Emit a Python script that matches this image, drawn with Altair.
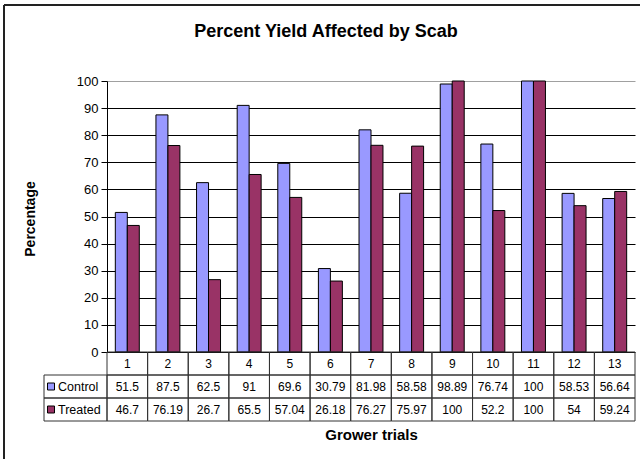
import altair as alt
import pandas as pd

# Grower trial numbers and percent yield affected by scab
trials = ["1", "2", "3", "4", "5", "6", "7", "8", "9", "10", "11", "12", "13"]
control = [51.5, 87.5, 62.5, 91, 69.6, 30.79, 81.98, 58.58, 98.89, 76.74, 100, 58.53, 56.64]
treated = [46.7, 76.19, 26.7, 65.5, 57.04, 26.18, 76.27, 75.97, 100, 52.2, 100, 54, 59.24]
series = ["Control", "Treated"]
series_colors = ["#9999FF", "#993366"]
y_ticks = [0, 10, 20, 30, 40, 50, 60, 70, 80, 90, 100]

chart_title = "Percent Yield Affected by Scab"
y_title = "Percentage"
x_title = "Grower trials"

FONT = "Liberation Sans"

# long table: one row per trial and series
records = []
for name, vals in zip(series, [control, treated]):
    for t, v in zip(trials, vals):
        records.append({"trial": t, "row": name, "value": v, "label": f"{v:g}"})
bars_df = pd.DataFrame(records)

# data table below the plot: header row with trial numbers + one row per series
header_df = pd.DataFrame({"trial": trials, "row": "Trial", "label": trials})
table_df = pd.concat([header_df, bars_df[["trial", "row", "label"]]], ignore_index=True)
row_order = ["Trial"] + series

color = alt.Color("row:N", scale=alt.Scale(domain=series, range=series_colors), legend=None)

W, H = 528, 271

# ---- bar panel ----
bars = alt.Chart(bars_df).mark_bar(stroke="black", strokeWidth=1).encode(
    x=alt.X("trial:N", sort=trials, axis=None,
            scale=alt.Scale(paddingInner=0.41, paddingOuter=0.205)),
    xOffset=alt.XOffset("row:N", sort=series, scale=alt.Scale(paddingInner=0, paddingOuter=0)),
    y=alt.Y("value:Q", scale=alt.Scale(domain=[0, 100], nice=False),
            axis=alt.Axis(values=y_ticks, title=y_title, grid=True,
                          gridColor=alt.condition("datum.value === 100", alt.value("#a0a0a0"), alt.value("#000000")),
                          gridWidth=1, domainColor="#000000", tickColor="#000000",
                          tickSize=6, labelPadding=3, labelFontSize=13, labelColor="#000000",
                          labelFont=FONT, titleFont=FONT, titleFontSize=14, titleFontWeight="bold",
                          titleColor="#000000", titleAngle=270, titleX=-77, titleY=H / 2 + 2,
                          titleAlign="center", titleBaseline="middle")),
    color=color,
)

title_mark = alt.Chart(pd.DataFrame({"t": [chart_title]})).mark_text(
    font=FONT, fontSize=18, fontWeight="bold", color="#000000", baseline="alphabetic", align="center"
).encode(text="t:N", x=alt.value(219), y=alt.value(-44))

frame_df = pd.DataFrame({"k": [0]})
frame_top = alt.Chart(frame_df).mark_rule(color="#222222", strokeWidth=2).encode(
    x=alt.value(-103), x2=alt.value(533), y=alt.value(-76))
frame_left = alt.Chart(frame_df).mark_rule(color="#222222", strokeWidth=2).encode(
    x=alt.value(-103), y=alt.value(-76), y2=alt.value(378))

top = alt.layer(frame_top, frame_left, title_mark, bars).properties(width=W, height=H)

# ---- data table panel ----
tx = alt.X("trial:N", sort=trials, scale=alt.Scale(paddingInner=0, paddingOuter=0),
           axis=alt.Axis(title=x_title, labels=False, ticks=False, domain=False, grid=False,
                         titleFont=FONT, titleFontSize=15, titleFontWeight="bold",
                         titleColor="#000000", titlePadding=6))
ty = alt.Y("row:N", sort=row_order, scale=alt.Scale(paddingInner=0, paddingOuter=0), axis=None)

cells = alt.Chart(table_df).mark_rect(fill="white", fillOpacity=0, stroke="#333333", strokeWidth=1).encode(
    x=tx, y=ty)
cell_text = alt.Chart(table_df).mark_text(font=FONT, fontSize=12, color="#000000").encode(
    x=tx, y=ty, text="label:N")

legend_df = pd.DataFrame({"row": series})
legend_cells = alt.Chart(legend_df).mark_rect(fill="white", fillOpacity=0, stroke="#333333", strokeWidth=1).encode(
    x=alt.value(-63), x2=alt.value(0), y=ty)
legend_keys = alt.Chart(legend_df).mark_square(size=49, opacity=1, stroke="#000000", strokeWidth=1).encode(
    x=alt.value(-56), y=ty, color=color)
legend_text = alt.Chart(legend_df).mark_text(font=FONT, fontSize=12.5, color="#000000", align="left").encode(
    x=alt.value(-49), y=ty, text="row:N")

table = alt.layer(cells, cell_text, legend_cells, legend_keys, legend_text).properties(width=W, height=69)

chart = alt.vconcat(top, table, spacing=0, bounds="flush").resolve_scale(
    x="independent", y="independent", color="shared"
).properties(
    padding={"left": 3, "top": 4, "right": 0, "bottom": 0},
    background="white",
).configure_view(strokeWidth=0)

chart.save("out.html", embed_options={"renderer": "svg", "actions": False})
